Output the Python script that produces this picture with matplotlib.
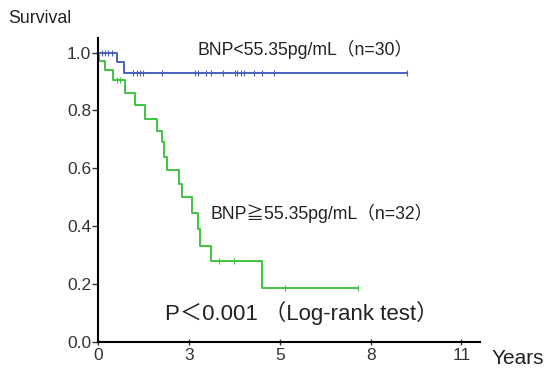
import numpy as np
import matplotlib
matplotlib.use("Agg")
import matplotlib.pyplot as plt

plt.rcParams['font.family'] = ['Liberation Sans', 'Noto Sans CJK SC', 'DejaVu Sans']

# Kaplan-Meier steps (years, survival)
low_t = [0, 0.57, 0.78, 9.34]
low_s = [1.0, 0.967, 0.93, 0.93]
low_cens = [0.12, 0.21, 0.30, 0.42, 1.05, 1.17, 1.27, 1.36, 1.93, 2.92, 3.01, 3.28,
            3.43, 3.77, 4.13, 4.22, 4.34, 4.43, 4.73, 4.97, 5.33, 9.34]

high_t = [0, 0.03, 0.21, 0.45, 0.81, 1.11, 1.42, 1.78, 1.93, 1.99, 2.08, 2.44, 2.53,
          2.83, 3.01, 3.10, 3.43, 4.97, 7.86]
high_s = [1.0, 0.97, 0.94, 0.905, 0.86, 0.82, 0.77, 0.73, 0.69, 0.64, 0.595, 0.545, 0.50,
          0.446, 0.39, 0.33, 0.28, 0.185, 0.185]
high_cens = [0.57, 0.66, 3.67, 4.10, 5.66, 7.86]

xtick_pos = [0, 2.75, 5.5, 8.25, 11]
xtick_lab = ['0', '3', '5', '8', '11']
ytick_pos = [0.0, 0.2, 0.4, 0.6, 0.8, 1.0]

BLUE = '#4b5fc0'
GREEN = '#3fc43f'
TXT = '#222222'


def surv_at(t, times, surv):
    # value of the step curve at time t
    i = np.searchsorted(times, t, side='right') - 1
    return surv[i]


fig = plt.figure(figsize=(5.45, 3.73), dpi=100)
ax = fig.add_axes([0.18, 0.083, 0.70, 0.815])

ax.step(low_t, low_s, where='post', color=BLUE, lw=1.4)
ax.step(high_t, high_s, where='post', color=GREEN, lw=1.4)
ax.plot(low_cens, [surv_at(t, low_t, low_s) for t in low_cens], '|', color=BLUE, ms=4, mew=0.8)
ax.plot(high_cens, [surv_at(t, high_t, high_s) for t in high_cens], '|', color=GREEN, ms=4, mew=0.8)

ax.set_xlim(0, 11.55)
ax.set_ylim(0, 1.05)
ax.set_xticks(xtick_pos)
ax.set_xticklabels(xtick_lab)
ax.set_yticks(ytick_pos)
ax.set_yticklabels(['%.1f' % v for v in ytick_pos])
ax.tick_params(axis='both', labelsize=12.5, colors='#333333', width=1, length=4)
ax.tick_params(axis='y', pad=1)
ax.tick_params(axis='x', direction='inout', pad=2)

for side in ['top', 'right']:
    ax.spines[side].set_visible(False)
for side in ['left', 'bottom']:
    ax.spines[side].set_linewidth(1.5)

ax.text(3.0, 1.01, 'BNP<55.35pg/mL（n=30）', fontsize=12.7, color=TXT, va='center')
ax.text(3.4, 0.445, 'BNP≧55.35pg/mL（n=32）', fontsize=12.7, color=TXT, va='center')
ax.text(2.03, 0.10, 'P＜0.001 （Log-rank test）', fontsize=16, color=TXT, va='center')

fig.text(0.015, 0.95, 'Survival', fontsize=12.8, color=TXT, va='center')
fig.text(0.901, 0.04, 'Years', fontsize=15, color=TXT, va='center')

fig.savefig('out.png', dpi=100, facecolor='white')
